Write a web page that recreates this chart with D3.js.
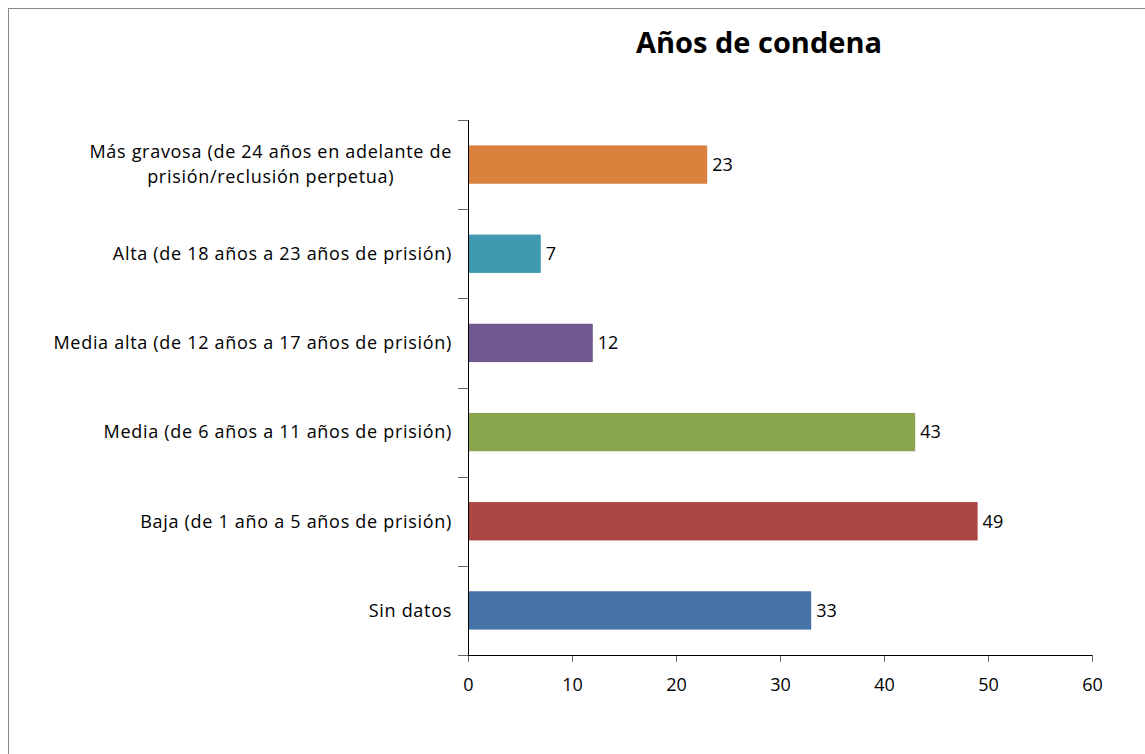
<!DOCTYPE html>
<html>
<head>
<meta charset="utf-8">
<script src="https://cdn.jsdelivr.net/npm/d3@7"></script>
<style>
  body { margin: 0; background: #fff; }
  text { font-family: "Open Sans", sans-serif; }
</style>
</head>
<body>
<div id="chart"></div>
<script>
// datos del gráfico
const categories = [
  "Más gravosa (de 24 años en adelante de prisión/reclusión perpetua)",
  "Alta (de 18 años a 23 años de prisión)",
  "Media alta (de 12 años a 17 años de prisión)",
  "Media (de 6 años a 11 años de prisión)",
  "Baja (de 1 año a 5 años de prisión)",
  "Sin datos"
];
const values = [23, 7, 12, 43, 49, 33];
const barColors = ["#DA813D", "#4199B0", "#71588F", "#89A54E", "#AA4643", "#4572A7"];
const xTicks = [0, 10, 20, 30, 40, 50, 60];
const title = "Años de condena";

const width = 1145, height = 754;
const margin = { top: 120, bottom: 99, left: 468, right: 53 };
const labelFont = "18px";
const labelSpacing = "0.7px";

const svg = d3.select("#chart").append("svg").attr("width", width).attr("height", height);

// marco
svg.append("rect")
  .attr("x", 8.5).attr("y", 8.5)
  .attr("width", width + 20).attr("height", height + 20)
  .attr("fill", "none").attr("stroke", "#888").attr("stroke-width", 1);

// título
svg.append("text")
  .attr("x", 759).attr("y", 53)
  .attr("text-anchor", "middle")
  .attr("font-size", "29px")
  .attr("font-weight", "bold")
  .text(title);

// escalas
const xScale = d3.scaleLinear().domain([0, 60]).range([margin.left, width - margin.right]);
const yScale = d3.scaleBand().domain(categories)
  .range([margin.top, height - margin.bottom])
  .paddingInner(0.57).paddingOuter(0.285);

// barras
svg.append("g").selectAll("rect")
  .data(values).enter().append("rect")
  .attr("x", xScale(0))
  .attr("y", (d, i) => yScale(categories[i]))
  .attr("width", d => xScale(d) - xScale(0))
  .attr("height", yScale.bandwidth())
  .attr("fill", (d, i) => barColors[i]);

// etiquetas de valor
svg.append("g").selectAll("text")
  .data(values).enter().append("text")
  .attr("x", d => xScale(d) + 5)
  .attr("y", (d, i) => yScale(categories[i]) + yScale.bandwidth() / 2)
  .attr("dy", "0.35em")
  .attr("font-size", labelFont)
  .attr("fill", "#000")
  .text(d => d);

// eje x
const axisX = svg.append("g")
  .attr("transform", "translate(0," + (height - margin.bottom) + ")")
  .call(d3.axisBottom(xScale).tickValues(xTicks).tickSize(7).tickPadding(16).tickSizeOuter(0));
axisX.select(".domain").remove();
axisX.selectAll(".tick line").attr("stroke", "#666");
axisX.selectAll("text").attr("font-size", labelFont).attr("fill", "#000")
  .style("font-family", "Open Sans, sans-serif");
svg.append("line")
  .attr("x1", margin.left - 10).attr("x2", width - margin.right)
  .attr("y1", height - margin.bottom + 0.5).attr("y2", height - margin.bottom + 0.5)
  .attr("stroke", "#000");

// eje y: marcas entre categorías
const bounds = d3.range(categories.length + 1).map(i => margin.top + i * yScale.step());
svg.append("g").selectAll("line")
  .data(bounds).enter().append("line")
  .attr("x1", margin.left - 10).attr("x2", margin.left)
  .attr("y1", d => Math.round(d) + 0.5).attr("y2", d => Math.round(d) + 0.5)
  .attr("stroke", "#666");
svg.append("line")
  .attr("x1", margin.left + 0.5).attr("x2", margin.left + 0.5)
  .attr("y1", margin.top).attr("y2", height - margin.bottom)
  .attr("stroke", "#000");

// etiquetas de categoría (con ajuste de línea, centradas si hay varias)
const labelG = svg.append("g");
const rightEdge = margin.left - 16;
categories.forEach(c => {
  const t = labelG.append("text")
    .attr("font-size", labelFont)
    .attr("letter-spacing", labelSpacing)
    .attr("fill", "#000");
  const words = c.split(" ");
  let lines = [], line = [];
  const probe = t.append("tspan");
  const measure = s => { probe.text(s); return probe.node().getComputedTextLength(); };
  words.forEach(w => {
    line.push(w);
    if (measure(line.join(" ")) > 420 && line.length > 1) {
      line.pop();
      lines.push(line.join(" "));
      line = [w];
    }
  });
  lines.push(line.join(" "));
  const maxW = d3.max(lines, l => measure(l));
  probe.remove();
  const cy = yScale(c) + yScale.bandwidth() / 2;
  const lh = 25;
  const multi = lines.length > 1;
  t.attr("text-anchor", multi ? "middle" : "end");
  lines.forEach((l, i) => {
    t.append("tspan")
      .attr("x", multi ? rightEdge - maxW / 2 : rightEdge)
      .attr("y", cy + (i - (lines.length - 1) / 2) * lh)
      .attr("dy", "0.35em")
      .text(l);
  });
});
</script>
</body>
</html>
